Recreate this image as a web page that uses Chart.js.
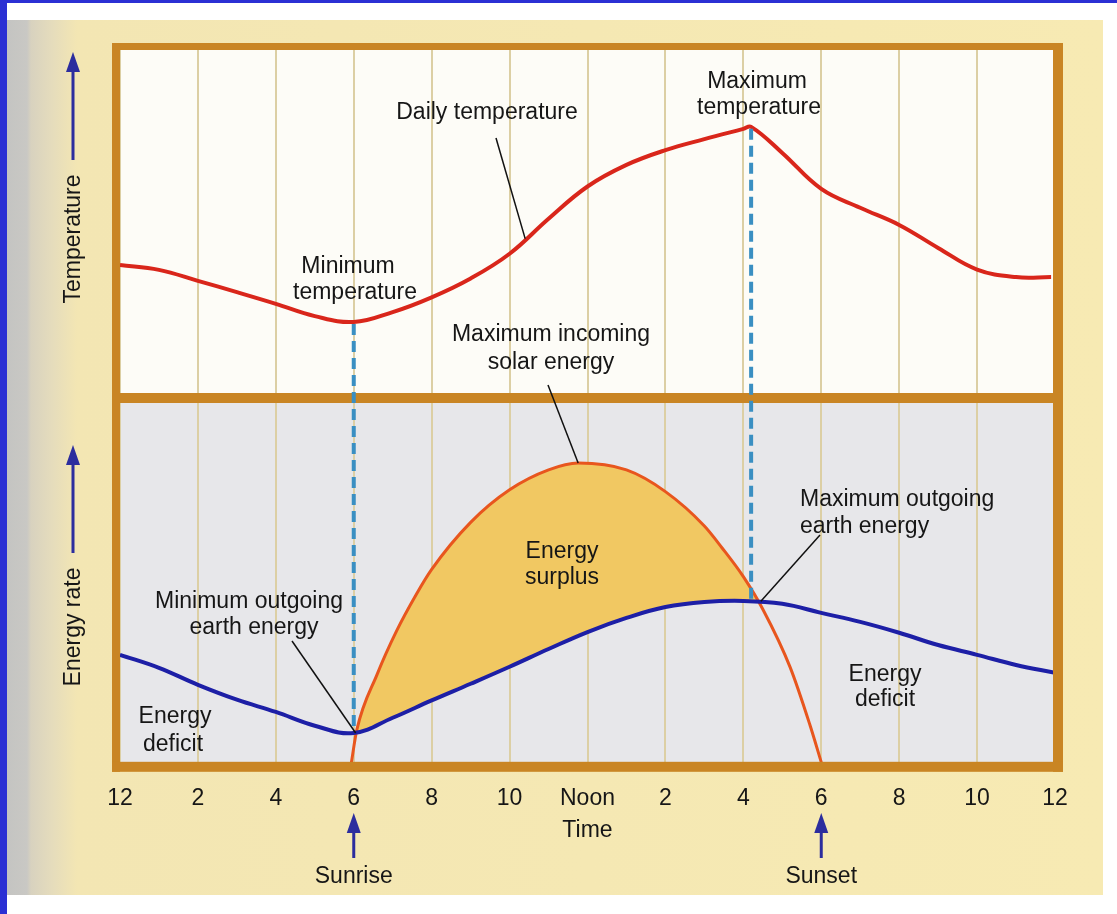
<!DOCTYPE html>
<html>
<head>
<meta charset="utf-8">
<script src="https://cdn.jsdelivr.net/npm/chart.js@4.4.0/dist/chart.umd.min.js"></script>
<style>
  html, body { margin: 0; padding: 0; background: #fff; }
  #page { position: relative; width: 1117px; height: 914px; overflow: hidden; background: #fff; }
  #blueTop { position: absolute; left: 0; top: 0; width: 1117px; height: 3px; background: #2b30d4; }
  #blueLeft { position: absolute; left: 0; top: 0; width: 7px; height: 914px; background: #2b30d4; }
  #paper {
    position: absolute; left: 7px; top: 20px; width: 1096px; height: 875px;
    background: linear-gradient(to right, #c4c4c2 0px, #c9c8c4 20px, #d8d2bf 24px, #e5dcbc 45px, #f3e6b3 70px, #f7eab3 100%);
  }
  canvas { position: absolute; left: 0; top: 0; }
</style>
</head>
<body>
<div id="page">
  <div id="paper"></div>
  <div id="blueTop"></div>
  <div id="blueLeft"></div>
  <canvas id="tempChart" width="1117" height="914"></canvas>
  <canvas id="energyChart" width="1117" height="914"></canvas>
</div>
<script>
// hours since midnight, values in arbitrary units (0-100)
const tempHours = [0, 1, 2, 3, 4, 5, 6, 7, 8, 9, 10, 11, 12, 13, 14, 15, 16, 16.2, 17, 18, 19, 20, 21, 22, 23, 23.9];
const temperature = [37.3, 35.9, 32.7, 29.4, 26.0, 22.4, 20.7, 23.6, 27.9, 33.4, 40.6, 50.8, 60.2, 66.5, 70.8, 74.0, 77.0, 77.6, 70.0, 59.5, 54.0, 49.0, 42.3, 36.0, 33.8, 33.8];

const outHours = [0, 1, 2, 3, 4, 5, 6, 7, 8, 9, 10, 11, 12, 13, 14, 15, 16, 17, 18, 19, 20, 21, 22, 23, 24];
const outgoingEnergy = [30.4, 26.8, 22.1, 18.0, 14.6, 10.8, 8.8, 13.0, 17.8, 22.4, 27.1, 32.0, 36.7, 40.6, 43.6, 45.0, 45.3, 44.5, 42.0, 39.5, 36.5, 33.1, 30.4, 27.6, 25.4];

const solarHours = [5.93, 6.08, 6.6, 7.1, 7.6, 8, 9, 10, 11, 11.76, 13, 14, 15, 15.45, 16, 16.5, 17.2, 17.71, 18.02];
const solarEnergy = [0, 9.7, 25, 37, 47, 54, 67, 76, 81.5, 83.4, 81.5, 75.5, 66, 60, 52, 43, 27, 11, 0];

const tickLabels = ['12', '2', '4', '6', '8', '10', 'Noon', '2', '4', '6', '8', '10', '12'];

const FONT = '"Liberation Sans", Arial, Helvetica, sans-serif';
const TEXT = '#161616';
const ARROW = '#2c2d9e';
const FRAME = '#c98524';
const GRID = '#dccfa4';

function toPoints(xs, ys) {
  return xs.map((x, i) => ({ x: x, y: ys[i] }));
}

function panelBackground(color) {
  return {
    id: 'panelBg',
    beforeDraw(chart) {
      const a = chart.chartArea;
      chart.ctx.save();
      chart.ctx.fillStyle = color;
      chart.ctx.fillRect(a.left, a.top, a.right - a.left, a.bottom - a.top);
      chart.ctx.restore();
    }
  };
}

// top panel: daily temperature
const tempChart = new Chart(document.getElementById('tempChart').getContext('2d'), {
  type: 'line',
  data: {
    datasets: [{
      data: toPoints(tempHours, temperature),
      borderColor: '#d9261b',
      borderWidth: 4,
      pointRadius: 0,
      tension: 0.4,
      fill: false
    }]
  },
  options: {
    responsive: false,
    animation: false,
    events: [],
    layout: { padding: { left: 120, right: 62, top: 50, bottom: 521 } },
    plugins: { legend: { display: false }, tooltip: { enabled: false } },
    scales: {
      x: {
        type: 'linear', min: 0, max: 24,
        ticks: { display: false, stepSize: 2 },
        grid: { color: GRID, lineWidth: 2, drawTicks: false },
        border: { display: false }
      },
      y: { min: 0, max: 100, display: false }
    }
  },
  plugins: [panelBackground('#fdfcf7')]
});

// overlay: frame, dashed guides, labels and arrows
const overlay = {
  id: 'overlay',
  afterDraw(chart) {
    const ctx = chart.ctx;
    const xT = tempChart.scales.x, yT = tempChart.scales.y;
    const xE = chart.scales.x, yE = chart.scales.y;
    const top = tempChart.chartArea, bot = chart.chartArea;
    ctx.save();

    // frame
    ctx.fillStyle = FRAME;
    ctx.fillRect(top.left - 8, top.top - 7, top.right - top.left + 16, 7);
    ctx.fillRect(top.left - 8, top.top - 7, 8, bot.bottom - top.top + 14);
    ctx.fillRect(top.right - 2, top.top - 7, 10, bot.bottom - top.top + 14);
    ctx.fillRect(top.left - 8, bot.bottom - 3, top.right - top.left + 16, 10);
    ctx.fillRect(top.left - 8, top.bottom, top.right - top.left + 16, 10);

    // dashed guides: min temperature -> min outgoing, max temperature -> max outgoing
    ctx.strokeStyle = '#3a8fc2';
    ctx.lineWidth = 4;
    ctx.setLineDash([11, 6]);
    const guides = [[6, 20.7, 8.8], [16.2, 77.6, 45.2]];
    guides.forEach(g => {
      const x = xT.getPixelForValue(g[0]);
      ctx.beginPath();
      ctx.moveTo(x, yT.getPixelForValue(g[1]) + 2);
      ctx.lineTo(x, yE.getPixelForValue(g[2]) - 2);
      ctx.stroke();
    });
    ctx.setLineDash([]);

    // leader lines
    ctx.strokeStyle = '#111';
    ctx.lineWidth = 1.5;
    const leaders = [
      [496, 138, xT.getPixelForValue(10.4), yT.getPixelForValue(45)],
      [548, 385, xE.getPixelForValue(11.76), yE.getPixelForValue(83.4)],
      [820, 535, xE.getPixelForValue(16.45), yE.getPixelForValue(45.2)],
      [292, 641, xE.getPixelForValue(6.05), yE.getPixelForValue(8.8)]
    ];
    leaders.forEach(l => {
      ctx.beginPath();
      ctx.moveTo(l[0], l[1]);
      ctx.lineTo(l[2], l[3]);
      ctx.stroke();
    });

    // annotations
    ctx.fillStyle = TEXT;
    ctx.font = '23px ' + FONT;
    ctx.textBaseline = 'middle';
    ctx.textAlign = 'center';
    const labels = [
      ['Daily temperature', 487, 113],
      ['Maximum', 757, 82], ['temperature', 759, 108],
      ['Minimum', 348, 267], ['temperature', 355, 293],
      ['Maximum incoming', 551, 335], ['solar energy', 551, 363],
      ['Energy', 562, 552], ['surplus', 562, 578],
      ['Minimum outgoing', 249, 602], ['earth energy', 254, 628],
      ['Energy', 175, 717], ['deficit', 173, 745],
      ['Energy', 885, 675], ['deficit', 885, 700],
      ['Sunrise', xE.getPixelForValue(6), 877],
      ['Sunset', xE.getPixelForValue(18), 877]
    ];
    labels.forEach(t => ctx.fillText(t[0], t[1], t[2]));
    ctx.textAlign = 'left';
    ctx.fillText('Maximum outgoing', 800, 500);
    ctx.fillText('earth energy', 800, 527);

    // axis names with upward arrows
    function arrowUp(x, tip, tail) {
      ctx.strokeStyle = ARROW;
      ctx.fillStyle = ARROW;
      ctx.lineWidth = 3;
      ctx.beginPath();
      ctx.moveTo(x, tail);
      ctx.lineTo(x, tip + 12);
      ctx.stroke();
      ctx.beginPath();
      ctx.moveTo(x, tip);
      ctx.lineTo(x - 7, tip + 20);
      ctx.lineTo(x + 7, tip + 20);
      ctx.closePath();
      ctx.fill();
    }
    arrowUp(73, 52, 160);
    arrowUp(73, 445, 553);
    arrowUp(xE.getPixelForValue(6), 813, 858);
    arrowUp(xE.getPixelForValue(18), 813, 858);

    ctx.fillStyle = TEXT;
    ctx.textAlign = 'center';
    [['Temperature', 239], ['Energy rate', 627]].forEach(t => {
      ctx.save();
      ctx.translate(74, t[1]);
      ctx.rotate(-Math.PI / 2);
      ctx.fillText(t[0], 0, 0);
      ctx.restore();
    });

    ctx.restore();
  }
};

// bottom panel: incoming solar and outgoing earth energy
const energyChart = new Chart(document.getElementById('energyChart').getContext('2d'), {
  type: 'line',
  data: {
    datasets: [{
      label: 'Outgoing earth energy',
      data: toPoints(outHours, outgoingEnergy),
      borderColor: '#1d1fa6',
      borderWidth: 4,
      pointRadius: 0,
      tension: 0.4,
      fill: false
    }, {
      label: 'Incoming solar energy',
      data: toPoints(solarHours, solarEnergy),
      borderColor: '#e8561e',
      borderWidth: 3,
      pointRadius: 0,
      cubicInterpolationMode: 'monotone',
      fill: { target: 0, above: '#f1c862', below: 'rgba(0,0,0,0)' }
    }]
  },
  options: {
    responsive: false,
    animation: false,
    events: [],
    layout: { padding: { left: 120, right: 62, top: 403, bottom: 70 } },
    plugins: { legend: { display: false }, tooltip: { enabled: false } },
    scales: {
      x: {
        type: 'linear', min: 0, max: 24,
        ticks: {
          stepSize: 2, autoSkip: false, maxRotation: 0, padding: 20,
          color: TEXT, font: { family: FONT, size: 23 },
          callback: v => tickLabels[v / 2]
        },
        grid: { color: GRID, lineWidth: 2, drawTicks: false },
        border: { display: false },
        title: {
          display: true, text: 'Time', color: TEXT,
          font: { family: FONT, size: 23 }, padding: { top: -16, bottom: 0 }
        }
      },
      y: { min: 0, max: 100, display: false }
    }
  },
  plugins: [panelBackground('#e7e7ea'), overlay]
});
</script>
</body>
</html>
